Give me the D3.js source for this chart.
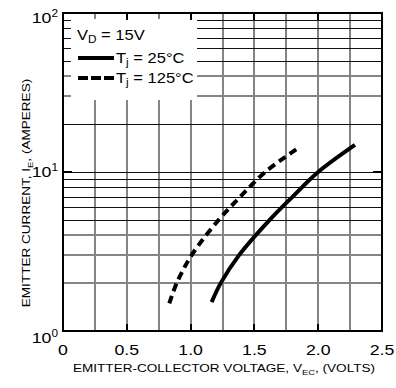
<!DOCTYPE html>
<html>
<head>
<meta charset="utf-8">
<script src="https://cdn.jsdelivr.net/npm/d3@7"></script>
<style>
  body { margin: 0; background: #fff; }
  svg { display: block; font-family: "Liberation Sans", Arial, sans-serif; }
</style>
</head>
<body>
<div id="chart"></div>
<script>
// ---- data ----
var T25_V = [1.165, 1.236, 1.38, 1.62, 1.80, 2.0, 2.288];
var T25_I = [1.52, 2, 3, 5, 7, 10, 14.8];
var T125_V = [0.833, 0.891, 1.008, 1.22, 1.39, 1.585, 1.857];
var T125_I = [1.49, 2, 3, 5, 7, 10, 14.4];
var X_TICKS = [0, 0.5, 1.0, 1.5, 2.0, 2.5];
var X_LABELS = ["0", "0.5", "1.0", "1.5", "2.0", "2.5"];
var Y_DECADES = [1, 10, 100];
var Y_EXP = ["0", "1", "2"];
var LEGEND = ["Tj = 25°C", "Tj = 125°C"];

var W = 396, H = 388, m = { l: 63, r: 14, t: 13, b: 57 };
var GRAY = "#858585", SX = 1.18;

var svg = d3.select("#chart").append("svg").attr("width", W).attr("height", H);
var x = d3.scaleLinear().domain([0, 2.5]).range([m.l, W - m.r]);
var y = d3.scaleLog().domain([1, 100]).range([H - m.b, m.t]);

// text is drawn a little wider than Liberation Sans, like the original
function label(px, py, anchor, size, rot) {
  return svg.append("g").attr("transform", "translate(" + px + "," + py + ")" + (rot ? " rotate(-90)" : "") + " scale(" + SX + ",1)")
    .append("text").attr("text-anchor", anchor).style("font-size", size + "px");
}
function sub(t, main, s, rest, size) {
  t.append("tspan").text(main);
  t.append("tspan").attr("dy", 3).style("font-size", size + "px").text(s);
  t.append("tspan").attr("dy", -3).text(rest);
}

// vertical grid every 0.25 V
var grid = svg.append("g");
d3.range(1, 10).forEach(function (i) {
  var xx = Math.round(x(i * 0.25));
  grid.append("line").attr("x1", xx).attr("x2", xx).attr("y1", m.t).attr("y2", H - m.b)
    .attr("stroke", GRAY).attr("stroke-width", 2);
});
// horizontal log grid
var crisp = [5, 6, 7, 8, 9, 10, 20, 50, 60, 70, 80, 90];
[2, 3, 4, 5, 6, 7, 8, 9, 10, 20, 30, 40, 50, 60, 70, 80, 90].forEach(function (v) {
  var thin = crisp.indexOf(v) >= 0;
  var yy = thin ? Math.round(y(v)) + 0.5 : Math.round(y(v));
  grid.append("line").attr("x1", m.l).attr("x2", W - m.r).attr("y1", yy).attr("y2", yy)
    .attr("stroke", thin ? "#111" : GRAY).attr("stroke-width", thin ? 1 : 2);
});

// legend box hides the grid (ticks stay visible at edges)
svg.append("rect").attr("x", m.l + 8).attr("y", m.t + 6).attr("width", 197 - m.l - 8).attr("height", 100 - m.t - 6)
  .attr("fill", "#fff");

// major ticks inside the frame
X_TICKS.slice(1, -1).forEach(function (v) {
  var xx = Math.round(x(v));
  svg.append("line").attr("x1", xx).attr("x2", xx).attr("y1", H - m.b).attr("y2", H - m.b - 7)
    .attr("stroke", "#000").attr("stroke-width", 2);
  svg.append("line").attr("x1", xx).attr("x2", xx).attr("y1", m.t).attr("y2", m.t + 7)
    .attr("stroke", "#000").attr("stroke-width", 2);
});
var y10 = Math.round(y(10));
svg.append("line").attr("x1", m.l).attr("x2", m.l + 9).attr("y1", y10).attr("y2", y10).attr("stroke", "#000").attr("stroke-width", 2);
svg.append("line").attr("x1", W - m.r - 9).attr("x2", W - m.r).attr("y1", y10).attr("y2", y10).attr("stroke", "#000").attr("stroke-width", 2);

// frame
svg.append("rect").attr("x", m.l).attr("y", m.t).attr("width", W - m.l - m.r).attr("height", H - m.t - m.b)
  .attr("fill", "none").attr("stroke", "#000").attr("stroke-width", 2);

// curves
var line = d3.line().x(function (d) { return x(d[0]); }).y(function (d) { return y(d[1]); }).curve(d3.curveCatmullRom.alpha(0.5));
svg.append("path").attr("d", line(d3.zip(T25_V, T25_I)))
  .attr("fill", "none").attr("stroke", "#000").attr("stroke-width", 4);
svg.append("path").attr("d", line(d3.zip(T125_V, T125_I)))
  .attr("fill", "none").attr("stroke", "#000").attr("stroke-width", 4).attr("stroke-dasharray", "8,5");

// legend
sub(label(77, 40, "start", 14), "V", "D", " = 15V", 10);
[58, 78].forEach(function (ly, i) {
  svg.append("line").attr("x1", 78).attr("x2", 114).attr("y1", ly).attr("y2", ly)
    .attr("stroke", "#000").attr("stroke-width", 4).attr("stroke-dasharray", i ? "10,3" : null);
  sub(label(116, ly + 5, "start", 14), "T", "j", LEGEND[i].slice(2), 10);
});

// y tick labels (decades)
var yOff = [12, 5, 10];
Y_DECADES.forEach(function (v, i) {
  var t = label(58, y(v) + yOff[i], "end", 15);
  t.append("tspan").text("10");
  t.append("tspan").attr("dy", -6).style("font-size", "10px").text(Y_EXP[i]);
});

// x tick labels
X_TICKS.forEach(function (v, i) {
  label(x(v), 355, "middle", 15).text(X_LABELS[i]);
});

// axis titles
sub(label(224, 372, "middle", 11.5), "EMITTER-COLLECTOR VOLTAGE, V", "EC", ", (VOLTS)", 8);
sub(label(30, 193, "middle", 11.5, true), "EMITTER CURRENT, I", "E", ", (AMPERES)", 8);
</script>
</body>
</html>
